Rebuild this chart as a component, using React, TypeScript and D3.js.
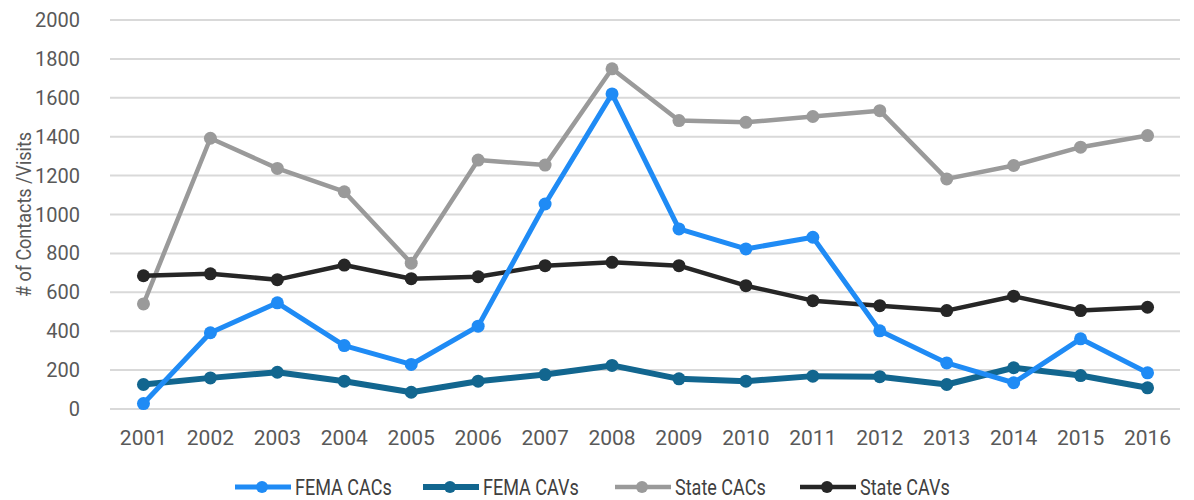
import React from "react";
import * as d3 from "d3";

const years = ["2001","2002","2003","2004","2005","2006","2007","2008","2009","2010","2011","2012","2013","2014","2015","2016"];
const yTicks = [0, 200, 400, 600, 800, 1000, 1200, 1400, 1600, 1800, 2000];

const femaCACs = [28, 392, 546, 326, 229, 426, 1054, 1620, 926, 823, 883, 402, 237, 135, 361, 186];
const femaCAVs = [126, 160, 189, 143, 86, 143, 177, 224, 155, 143, 169, 166, 126, 212, 172, 109];
const stateCACs = [540, 1392, 1237, 1117, 750, 1280, 1254, 1749, 1483, 1474, 1504, 1534, 1183, 1252, 1346, 1406];
const stateCAVs = [685, 695, 665, 740, 670, 680, 737, 754, 737, 634, 557, 531, 506, 580, 506, 523];

const seriesNames = ["FEMA CACs", "FEMA CAVs", "State CACs", "State CAVs"];
const seriesValues = [femaCACs, femaCAVs, stateCACs, stateCAVs];
const seriesColors = ["#1f8bf5", "#12668f", "#9a9a9a", "#262626"];
const seriesWidths = [5, 6, 4.5, 4.5];

const W = 1194;
const H = 500;
const plotLeft = 110;
const plotRight = 1181;
const plotTop = 20;
const plotBottom = 409;

const tickFont = "Roboto, 'Liberation Sans', sans-serif";
// condensed look for legend and axis title
const narrowScale = 0.82;

export default function App() {
  const x = d3.scalePoint<string>().domain(years).range([plotLeft, plotRight]).padding(0.5);
  const y = d3.scaleLinear().domain([0, 2000]).range([plotBottom, plotTop]);

  const line = d3
    .line<number>()
    .x((_, i) => x(years[i]) as number)
    .y((v) => y(v));

  // grey and black series behind, blue series on top
  const order = [2, 3, 1, 0];

  const legendX = [235, 423, 615, 800];

  return (
    <svg
      width={W}
      height={H}
      style={{ position: "absolute", left: 0, top: 0, background: "#fff" }}
    >
      <rect x={0} y={0} width={W} height={H} fill="#fff" />
      {yTicks.map((t) => (
        <g key={t}>
          <line x1={plotLeft} x2={plotRight - 1} y1={y(t)} y2={y(t)} stroke="#d9d9d9" strokeWidth={2} />
          <text
            x={80}
            y={y(t)}
            dy="0.35em"
            textAnchor="end"
            fontFamily={tickFont}
            fontSize={20}
            fill="#595959"
          >
            {t}
          </text>
        </g>
      ))}
      <text
        transform={`translate(24, ${(plotTop + plotBottom) / 2}) rotate(-90) scale(0.9, 1)`}
        textAnchor="middle"
        dy="0.35em"
        fontFamily={tickFont}
        fontSize={20}
        fill="#595959"
      >
        # of Contacts /Visits
      </text>
      {years.map((yr) => (
        <text
          key={yr}
          x={x(yr)}
          y={438}
          dy="0.35em"
          textAnchor="middle"
          fontFamily={tickFont}
          fontSize={21}
          fill="#595959"
        >
          {yr}
        </text>
      ))}
      {order.map((s) => (
        <g key={seriesNames[s]}>
          <path
            d={line(seriesValues[s]) || ""}
            fill="none"
            stroke={seriesColors[s]}
            strokeWidth={seriesWidths[s]}
            strokeLinejoin="round"
            strokeLinecap="round"
          />
          {seriesValues[s].map((v, i) => (
            <circle key={i} cx={x(years[i])} cy={y(v)} r={6.5} fill={seriesColors[s]} />
          ))}
        </g>
      ))}
      {seriesNames.map((name, s) => (
        <g key={name} transform={`translate(${legendX[s]}, 487)`}>
          <line x1={0} x2={56} y1={0} y2={0} stroke={seriesColors[s]} strokeWidth={seriesWidths[s]} />
          <circle cx={27} cy={0} r={6} fill={seriesColors[s]} />
          <text
            transform={`translate(60, 0) scale(${narrowScale}, 1)`}
            dy="0.35em"
            fontFamily={tickFont}
            fontSize={22}
            fill="#404040"
          >
            {name}
          </text>
        </g>
      ))}
    </svg>
  );
}
